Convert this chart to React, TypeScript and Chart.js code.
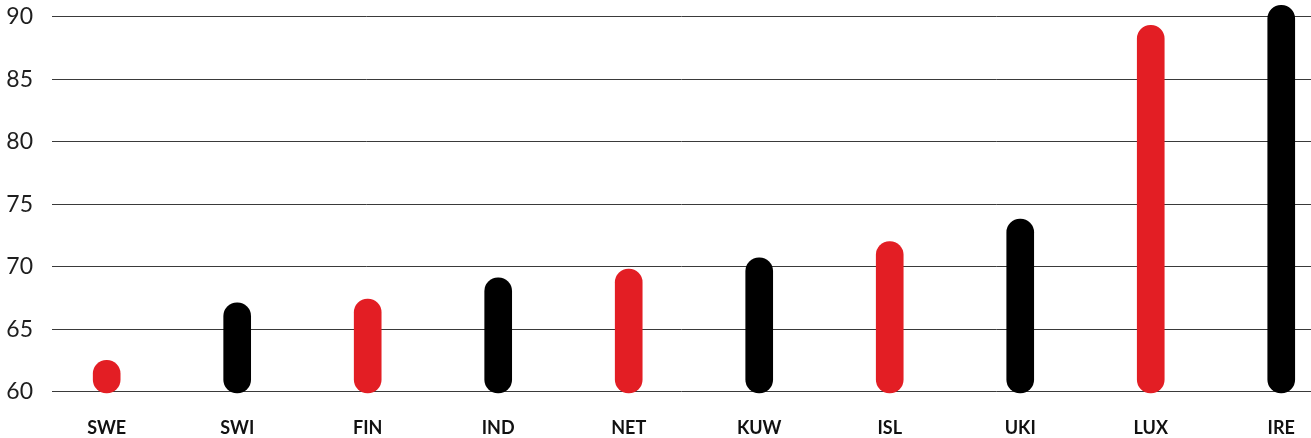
import React, { useEffect, useRef } from "react";
import { Chart, registerables } from "chart.js";

Chart.register(...registerables);

const CATEGORIES = ["SWE", "SWI", "FIN", "IND", "NET", "KUW", "ISL", "UKI", "LUX", "IRE"];
const VALUES = [62.5, 67.1, 67.4, 69.1, 69.8, 70.7, 72.0, 73.8, 89.3, 90.9];
const Y_TICKS = [60, 65, 70, 75, 80, 85, 90];
const RED = "#E31E24";
const BLACK = "#000000";
const BAR_COLORS = [RED, BLACK, RED, BLACK, RED, BLACK, RED, BLACK, RED, BLACK];

export default function App() {
  const ref = useRef<HTMLCanvasElement>(null);

  useEffect(() => {
    if (!ref.current) return;
    const chart = new Chart(ref.current, {
      type: "bar",
      data: {
        datasets: [
          {
            data: VALUES.map((v, i) => ({ x: i, y: v })),
            backgroundColor: BAR_COLORS,
            base: 59.9,
            barThickness: 27,
            borderRadius: 14,
            borderSkipped: false,
            clip: false as any,
          },
        ],
      },
      options: {
        animation: false,
        responsive: false,
        maintainAspectRatio: false,
        layout: { padding: { top: 16.7, left: 0, right: 0, bottom: 0 } },
        plugins: { legend: { display: false }, tooltip: { enabled: false } },
        scales: {
          x: {
            type: "linear",
            offset: false,
            min: -0.419,
            max: 9.228,
            grid: { display: false, offset: false },
            border: { display: false },
            afterBuildTicks: (s: any) => {
              s.ticks = CATEGORIES.map((_, i) => ({ value: i }));
            },
            ticks: {
              autoSkip: false,
              maxRotation: 0,
              padding: 18,
              color: "#111111",
              font: { family: "Lato, 'Open Sans', sans-serif", weight: "bold", size: 18 },
              callback: (v: any) => {
                const i = Math.round(Number(v));
                return CATEGORIES[i] ?? "";
              },
            },
            afterFit: (s: any) => {
              s.height = 46.3;
              s.paddingLeft = 0;
              s.paddingRight = 0;
            },
          },
          y: {
            min: 60,
            max: 90,
            afterBuildTicks: (s: any) => {
              s.ticks = Y_TICKS.map((v) => ({ value: v }));
            },
            grid: { color: "#3a3a3a", lineWidth: 1, drawTicks: false },
            border: { display: false },
            ticks: {
              padding: 19,
              color: "#1e1e1e",
              font: { family: "Lato, 'Open Sans', sans-serif", size: 23 },
            },
            afterFit: (s: any) => {
              s.width = 52;
              s.paddingTop = 0;
              s.paddingBottom = 0;
            },
          },
        },
      },
    });
    return () => chart.destroy();
  }, []);

  return (
    <div style={{ position: "absolute", left: 0, top: 0, width: 1311, height: 438 }}>
      <canvas ref={ref} width={1311} height={438} style={{ display: "block" }} />
    </div>
  );
}
